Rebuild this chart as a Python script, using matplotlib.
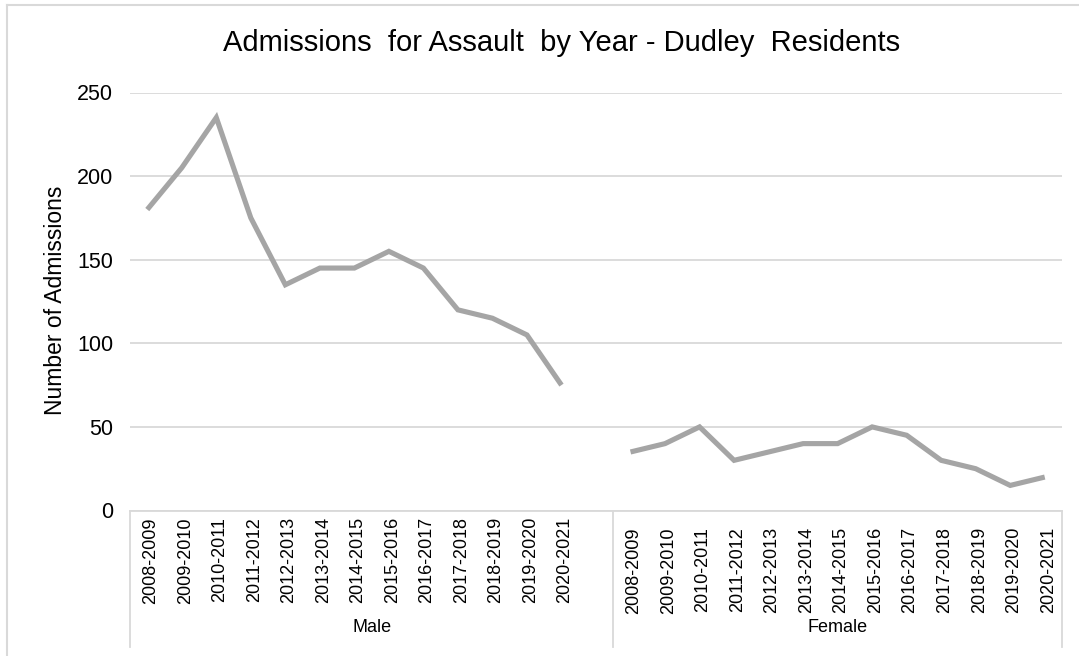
import matplotlib.pyplot as plt
from matplotlib.lines import Line2D
from matplotlib.transforms import blended_transform_factory

years = ['2008-2009', '2009-2010', '2010-2011', '2011-2012', '2012-2013',
         '2013-2014', '2014-2015', '2015-2016', '2016-2017', '2017-2018',
         '2018-2019', '2019-2020', '2020-2021']
groups = ['Male', 'Female']
male = [180, 205, 235, 175, 135, 145, 145, 155, 145, 120, 115, 105, 75]
female = [35, 40, 50, 30, 35, 40, 40, 50, 45, 30, 25, 15, 20]

plt.rcParams['font.family'] = ['Liberation Sans', 'DejaVu Sans']
W, H = 1079, 656
grid_col = '#D9D9D9'
line_col = '#A5A5A5'

fig = plt.figure(figsize=(W / 100, H / 100), dpi=100)

# plot area in pixels
x0, x1, ytop, ybot = 130, 1062, 92.5, 510.5
ax = fig.add_axes([x0 / W, 1 - ybot / H, (x1 - x0) / W, (ybot - ytop) / H])

n = len(years)
xm = list(range(n))
xf = [i + n + 1 for i in range(n)]  # one blank slot after Male
ax.plot(xm, male, color=line_col, lw=3.7, solid_capstyle='butt', solid_joinstyle='miter')
ax.plot(xf, female, color=line_col, lw=3.7, solid_capstyle='butt', solid_joinstyle='miter')

ax.set_xlim(-0.5, 2 * n + 0.5)
ax.set_ylim(0, 250)
ax.set_yticks(range(0, 251, 50))
ax.tick_params(axis='y', length=0, pad=12, labelsize=15.5)
ax.tick_params(axis='x', length=0, labelbottom=False)
ax.grid(axis='y', color=grid_col, lw=1.3)
ax.set_axisbelow(True)
for s in ['top', 'right', 'left']:
    ax.spines[s].set_visible(False)
ax.spines['bottom'].set_color(grid_col)
ax.spines['bottom'].set_linewidth(1.3)

# category labels
tr = blended_transform_factory(ax.transData, fig.transFigure)
for xs, top in [(xm, 517), (xf, 527)]:
    for x, lab in zip(xs, years):
        ax.text(x + 0.1, 1 - top / H, lab, transform=tr, rotation=90,
                ha='center', va='top', fontsize=13, clip_on=False)

# group labels and separators
bounds = [-0.5, n + 0.5, 2 * n + 0.5]
for i, g in enumerate(groups):
    ax.text((bounds[i] + bounds[i + 1]) / 2, 1 - 627 / H, g, transform=tr,
            ha='center', va='center', fontsize=13)
for b in bounds:
    fig.add_artist(Line2D([b, b], [1 - ybot / H, 1 - 647 / H], transform=tr,
                          color=grid_col, lw=1.3))

fig.text(56 / W, 1 - 300 / H, 'Number of Admissions', rotation=90,
         ha='center', va='center', fontsize=16.5)
fig.text(562 / W, 1 - 43 / H, 'Admissions  for Assault  by Year - Dudley  Residents',
         ha='center', va='center', fontsize=21)

# chart area border (top and left visible)
fig.add_artist(Line2D([7 / W, 1], [1 - 5 / H, 1 - 5 / H], color=grid_col, lw=1.5))
fig.add_artist(Line2D([7 / W, 7 / W], [0, 1 - 5 / H], color=grid_col, lw=1.5))

fig.savefig('out.png', dpi=100)
